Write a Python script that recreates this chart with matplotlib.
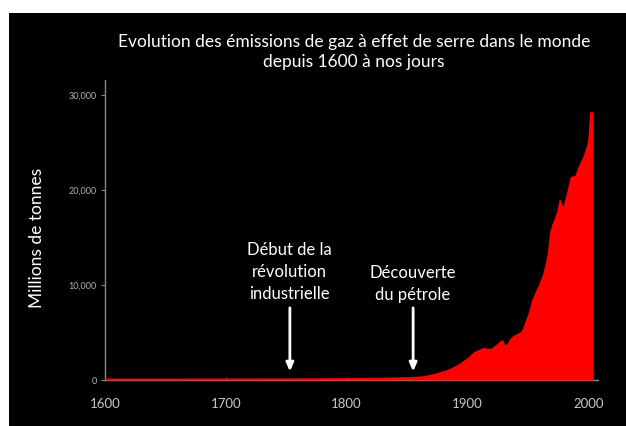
import matplotlib
matplotlib.use("Agg")
import matplotlib.pyplot as plt
from matplotlib.patches import Rectangle
from matplotlib.ticker import FuncFormatter

plt.rcParams['font.family'] = ['Lato', 'DejaVu Sans']

years = [1600, 1650, 1700, 1750, 1800, 1830, 1850, 1861, 1870, 1877, 1883, 1888,
         1893, 1897, 1901, 1905, 1909, 1913, 1916, 1919, 1922, 1925, 1927, 1929,
         1931, 1933, 1935, 1938, 1941, 1944, 1946, 1949, 1951, 1953, 1956, 1959,
         1962, 1964, 1966, 1968, 1970, 1972, 1974, 1976, 1977, 1979, 1981, 1983,
         1985, 1987, 1989, 1991, 1993, 1995, 1997, 1999, 2000, 2001, 2004]
emissions = [200, 200, 210, 220, 260, 300, 360, 420, 620, 875, 1100, 1400,
             1750, 2100, 2500, 2980, 3200, 3440, 3350, 3335, 3600, 3900, 4140, 4250,
             3685, 3900, 4390, 4700, 4910, 5090, 5615, 6665, 7400, 8420, 9300, 10100,
             11100, 12100, 13340, 15600, 16490, 17100, 17895, 19125, 18900, 18245, 19300, 20300,
             21400, 21500, 21580, 22300, 22900, 23400, 24100, 24915, 25970, 28240, 28240]

y_ticks = [0, 10000, 20000, 30000]
x_ticks = [1600, 1700, 1800, 1900, 2000]

title = "Evolution des émissions de gaz à effet de serre dans le monde\ndepuis 1600 à nos jours"
ylabel = "Millions de tonnes"
note1 = "Début de la\nrévolution\nindustrielle"
note2 = "Découverte\ndu pétrole"
note1_year = 1753
note2_year = 1855

fig = plt.figure(figsize=(6.26, 4.26), dpi=100, facecolor='white')
fig.patches.append(Rectangle((9 / 626, 0), 1, (426 - 13) / 426, transform=fig.transFigure,
                             facecolor='black', edgecolor='none', zorder=-10))

ax = fig.add_axes([105 / 626, 1 - 380 / 426, (598 - 105) / 626, (380 - 80) / 426])
ax.set_facecolor('none')
ax.fill_between(years, emissions, 0, color='#ff0000', linewidth=0, zorder=3)

ax.set_xlim(1600, 2008)
ax.set_ylim(0, 31600)
ax.set_xticks(x_ticks)
ax.set_yticks(y_ticks)
ax.yaxis.set_major_formatter(FuncFormatter(lambda v, p: f"{int(v):,}"))

for s in ['top', 'right']:
    ax.spines[s].set_visible(False)
for s in ['left', 'bottom']:
    ax.spines[s].set_color('#8a8a8a')
    ax.spines[s].set_linewidth(1.0)
ax.tick_params(axis='y', colors='#8a8a8a', labelcolor='#b0b0b0', labelsize=6.5, length=3, pad=3)
ax.tick_params(axis='x', colors='#555555', labelcolor='#c8c8c8', labelsize=9.5, length=2,
               direction='in', pad=13)

fig.text(354 / 626, 1 - 52 / 426, title, ha='center', va='center', color='white',
         fontsize=12.5, linespacing=1.25)
fig.text(37 / 626, 1 - 238 / 426, ylabel, ha='center', va='center', rotation=90,
         color='white', fontsize=12.5)

ax.text(note1_year, 11400, note1, ha='center', va='center', color='white',
        fontsize=12, linespacing=1.45)
ax.text(note2_year, 10100, note2, ha='center', va='center', color='white',
        fontsize=12, linespacing=1.45)
arrow = dict(arrowstyle='-|>,head_length=0.5,head_width=0.22', color='white', lw=2,
             shrinkA=0, shrinkB=0)
ax.annotate('', xy=(note1_year, 900), xytext=(note1_year, 7600), arrowprops=arrow)
ax.annotate('', xy=(note2_year, 900), xytext=(note2_year, 7600), arrowprops=arrow)

fig.savefig('out.png', dpi=100, facecolor='white')
